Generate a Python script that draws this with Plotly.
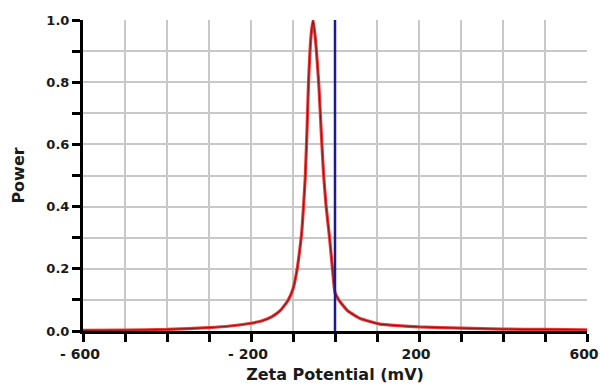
import plotly.graph_objects as go

# Data
zeta_mv = [-600, -500, -400, -300, -250, -200, -175, -150, -130, -112, -100, -90,
           -84, -79, -75, -71, -67, -63, -57, -52, -46, -42, -38, -32, -27,
           -21, -13, -6, 0, 10, 30, 60, 107, 150, 200, 300, 400, 500, 600]
power = [0.002, 0.003, 0.005, 0.011, 0.016, 0.025, 0.032, 0.046, 0.066, 0.098, 0.135, 0.2,
         0.26, 0.32, 0.4, 0.49, 0.63, 0.8, 0.95, 1.0, 0.93, 0.86, 0.78, 0.62, 0.5,
         0.4, 0.3, 0.2, 0.123, 0.098, 0.065, 0.04, 0.022, 0.017, 0.013, 0.009, 0.006, 0.005, 0.004]

marker_x = [0, 0]
marker_y = [0, 1.0]

x_tick_vals = [-600, -500, -400, -300, -200, -100, 0, 100, 200, 300, 400, 500, 600]
x_tick_text = ["- 600", "", "", "", "- 200", "", "", "", "200", "", "", "", "600"]
y_tick_vals = [0.0, 0.1, 0.2, 0.3, 0.4, 0.5, 0.6, 0.7, 0.8, 0.9, 1.0]
y_tick_text = ["0.0", "", "0.2", "", "0.4", "", "0.6", "", "0.8", "", "1.0"]

FONT = "DejaVu Sans"

fig = go.Figure()
fig.add_trace(go.Scatter(x=zeta_mv, y=power, mode="lines",
                         line=dict(color="#ef3a3a", width=3.2, shape="spline", smoothing=0.4),
                         hoverinfo="skip", showlegend=False))
fig.add_trace(go.Scatter(x=zeta_mv, y=power, mode="lines",
                         line=dict(color="#8a1c1c", width=1.2, shape="spline", smoothing=0.4),
                         showlegend=False))
fig.add_trace(go.Scatter(x=marker_x, y=marker_y, mode="lines",
                         line=dict(color="#1c1c90", width=2.5), showlegend=False))

axis_common = dict(
    showline=True, linecolor="black", linewidth=3,
    ticks="outside", ticklen=8, tickwidth=2.5, tickcolor="black",
    showgrid=True, gridcolor="#c8c8c8", gridwidth=2,
    zeroline=False, mirror=False, automargin=False,
    ticklabeloverflow="allow",
)

fig.update_layout(
    width=601, height=387,
    margin=dict(l=83, r=14, t=20, b=56),
    paper_bgcolor="white", plot_bgcolor="white",
    font=dict(family=FONT, color="black"),
    xaxis=dict(range=[-600, 600], tickvals=x_tick_vals, ticktext=x_tick_text,
               tickfont=dict(family=FONT, size=14, weight="bold", color="#1a1a1a"),
               ticklabelshift=-3,
               title=dict(text="Zeta Potential (mV)", standoff=9,
                          font=dict(family=FONT, size=16, weight="bold", color="#1a1a1a")),
               **axis_common),
    yaxis=dict(range=[0, 1.0], tickvals=y_tick_vals, ticktext=y_tick_text,
               tickfont=dict(family=FONT, size=13, weight="bold", color="#1a1a1a"),
               title=dict(text="Power", standoff=18,
                          font=dict(family=FONT, size=16, weight="bold", color="#1a1a1a")),
               **axis_common),
)

fig.write_html("out.html")
